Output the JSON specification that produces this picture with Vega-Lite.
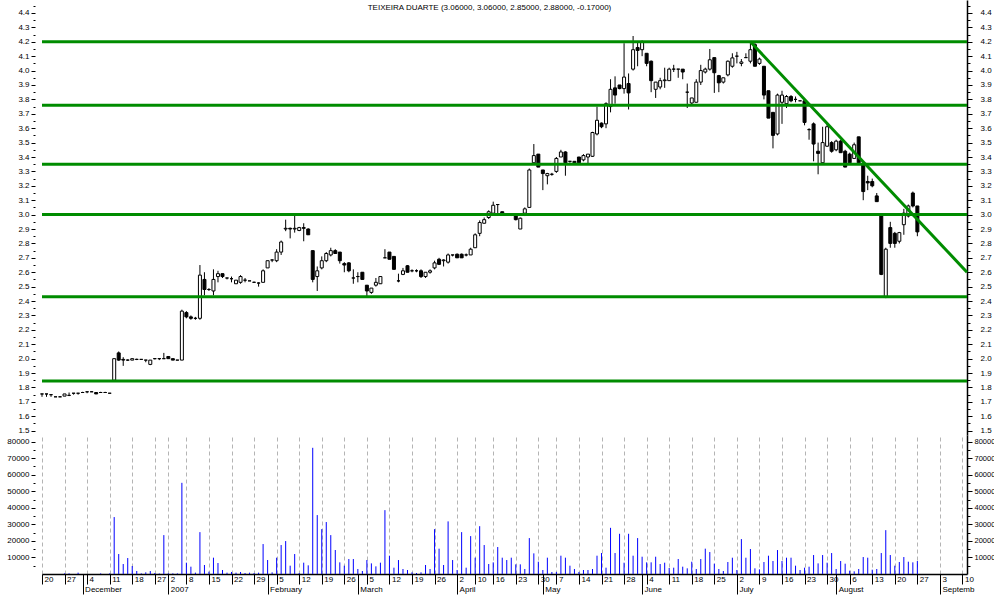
{
"$schema": "https://vega.github.io/schema/vega-lite/v6.json",
"padding": 0,
"autosize": {"type": "pad"},
"background": "white",
"spacing": 0,
"config": {"view": {"stroke": null}, "concat": {"spacing": 0}},
"datasets": {"p": [
{"d":"2006-11-20","o":1.755,"h":1.755,"l":1.735,"c":1.755,"v":0},
{"d":"2006-11-21","o":1.755,"h":1.755,"l":1.735,"c":1.755,"v":0},
{"d":"2006-11-22","o":1.75,"h":1.75,"l":1.735,"c":1.75,"v":0},
{"d":"2006-11-23","o":1.735,"h":1.735,"l":1.735,"c":1.735,"v":0},
{"d":"2006-11-24","o":1.735,"h":1.74,"l":1.735,"c":1.735,"v":0},
{"d":"2006-11-27","o":1.74,"h":1.755,"l":1.74,"c":1.755,"v":400},
{"d":"2006-11-28","o":1.745,"h":1.765,"l":1.74,"c":1.745,"v":400},
{"d":"2006-11-29","o":1.76,"h":1.76,"l":1.75,"c":1.76,"v":0},
{"d":"2006-11-30","o":1.76,"h":1.76,"l":1.75,"c":1.76,"v":800},
{"d":"2006-12-01","o":1.765,"h":1.77,"l":1.765,"c":1.765,"v":0},
{"d":"2006-12-04","o":1.77,"h":1.77,"l":1.76,"c":1.77,"v":0},
{"d":"2006-12-05","o":1.77,"h":1.775,"l":1.77,"c":1.77,"v":0},
{"d":"2006-12-06","o":1.765,"h":1.765,"l":1.755,"c":1.755,"v":0},
{"d":"2006-12-07","o":1.765,"h":1.77,"l":1.765,"c":1.765,"v":400},
{"d":"2006-12-08","o":1.765,"h":1.77,"l":1.765,"c":1.765,"v":0},
{"d":"2006-12-11","o":1.76,"h":1.76,"l":1.76,"c":1.76,"v":400},
{"d":"2006-12-12","o":1.85,"h":2.0,"l":1.85,"c":2.0,"v":34400},
{"d":"2006-12-13","o":2.04,"h":2.05,"l":1.985,"c":1.99,"v":12060},
{"d":"2006-12-14","o":1.995,"h":2.01,"l":1.95,"c":1.99,"v":6030},
{"d":"2006-12-15","o":1.99,"h":1.995,"l":1.985,"c":1.99,"v":9650},
{"d":"2006-12-18","o":1.99,"h":2.0,"l":1.99,"c":2.0,"v":4820},
{"d":"2006-12-19","o":1.995,"h":2.0,"l":1.99,"c":1.995,"v":1810},
{"d":"2006-12-20","o":1.995,"h":1.995,"l":1.995,"c":1.995,"v":400},
{"d":"2006-12-21","o":1.99,"h":1.99,"l":1.975,"c":1.99,"v":1000},
{"d":"2006-12-22","o":1.96,"h":1.99,"l":1.955,"c":1.99,"v":1800},
{"d":"2006-12-27","o":2.0,"h":2.0,"l":1.995,"c":2.0,"v":600},
{"d":"2006-12-28","o":2.0,"h":2.0,"l":1.99,"c":2.0,"v":300},
{"d":"2006-12-29","o":2.0,"h":2.04,"l":2.0,"c":2.0,"v":23500},
{"d":"2007-01-02","o":2.015,"h":2.015,"l":2.0,"c":2.0,"v":400},
{"d":"2007-01-03","o":2.0,"h":2.0,"l":1.99,"c":1.99,"v":400},
{"d":"2007-01-04","o":1.99,"h":1.99,"l":1.99,"c":1.99,"v":400},
{"d":"2007-01-05","o":1.99,"h":2.34,"l":1.99,"c":2.33,"v":55100},
{"d":"2007-01-08","o":2.32,"h":2.33,"l":2.28,"c":2.29,"v":6840},
{"d":"2007-01-09","o":2.29,"h":2.3,"l":2.27,"c":2.28,"v":4420},
{"d":"2007-01-10","o":2.28,"h":2.29,"l":2.27,"c":2.28,"v":800},
{"d":"2007-01-11","o":2.28,"h":2.65,"l":2.27,"c":2.58,"v":25300},
{"d":"2007-01-12","o":2.55,"h":2.6,"l":2.44,"c":2.48,"v":5430},
{"d":"2007-01-15","o":2.48,"h":2.49,"l":2.47,"c":2.48,"v":1410},
{"d":"2007-01-16","o":2.47,"h":2.62,"l":2.44,"c":2.55,"v":9860},
{"d":"2007-01-17","o":2.57,"h":2.61,"l":2.53,"c":2.59,"v":6640},
{"d":"2007-01-18","o":2.59,"h":2.59,"l":2.56,"c":2.57,"v":2410},
{"d":"2007-01-19","o":2.56,"h":2.56,"l":2.55,"c":2.56,"v":800},
{"d":"2007-01-22","o":2.555,"h":2.57,"l":2.53,"c":2.555,"v":1210},
{"d":"2007-01-23","o":2.52,"h":2.545,"l":2.52,"c":2.545,"v":800},
{"d":"2007-01-24","o":2.53,"h":2.58,"l":2.52,"c":2.57,"v":1210},
{"d":"2007-01-25","o":2.545,"h":2.56,"l":2.53,"c":2.545,"v":600},
{"d":"2007-01-26","o":2.54,"h":2.54,"l":2.54,"c":2.54,"v":800},
{"d":"2007-01-29","o":2.53,"h":2.535,"l":2.53,"c":2.53,"v":600},
{"d":"2007-01-30","o":2.525,"h":2.53,"l":2.5,"c":2.525,"v":800},
{"d":"2007-01-31","o":2.53,"h":2.62,"l":2.53,"c":2.61,"v":18100},
{"d":"2007-02-01","o":2.63,"h":2.68,"l":2.63,"c":2.68,"v":8450},
{"d":"2007-02-02","o":2.685,"h":2.69,"l":2.67,"c":2.685,"v":1000},
{"d":"2007-02-05","o":2.68,"h":2.76,"l":2.67,"c":2.74,"v":9860},
{"d":"2007-02-06","o":2.74,"h":2.82,"l":2.72,"c":2.81,"v":17500},
{"d":"2007-02-07","o":2.9,"h":2.965,"l":2.885,"c":2.905,"v":19900},
{"d":"2007-02-08","o":2.905,"h":2.91,"l":2.835,"c":2.9,"v":5030},
{"d":"2007-02-09","o":2.9,"h":3.0,"l":2.875,"c":2.905,"v":12060},
{"d":"2007-02-12","o":2.89,"h":2.915,"l":2.885,"c":2.91,"v":600},
{"d":"2007-02-13","o":2.91,"h":2.94,"l":2.815,"c":2.905,"v":6840},
{"d":"2007-02-14","o":2.9,"h":2.905,"l":2.86,"c":2.86,"v":5230},
{"d":"2007-02-15","o":2.75,"h":2.75,"l":2.53,"c":2.55,"v":76260},
{"d":"2007-02-16","o":2.57,"h":2.64,"l":2.47,"c":2.61,"v":35600},
{"d":"2007-02-19","o":2.63,"h":2.71,"l":2.62,"c":2.68,"v":27100},
{"d":"2007-02-20","o":2.68,"h":2.74,"l":2.67,"c":2.73,"v":31400},
{"d":"2007-02-21","o":2.72,"h":2.77,"l":2.71,"c":2.75,"v":23500},
{"d":"2007-02-22","o":2.75,"h":2.76,"l":2.73,"c":2.73,"v":14500},
{"d":"2007-02-23","o":2.74,"h":2.74,"l":2.66,"c":2.68,"v":7040},
{"d":"2007-02-26","o":2.66,"h":2.67,"l":2.6,"c":2.65,"v":5030},
{"d":"2007-02-27","o":2.665,"h":2.67,"l":2.6,"c":2.61,"v":9050},
{"d":"2007-02-28","o":2.56,"h":2.62,"l":2.52,"c":2.56,"v":9050},
{"d":"2007-03-01","o":2.57,"h":2.6,"l":2.53,"c":2.57,"v":3020},
{"d":"2007-03-02","o":2.6,"h":2.6,"l":2.55,"c":2.55,"v":1810},
{"d":"2007-03-05","o":2.51,"h":2.51,"l":2.43,"c":2.47,"v":8440},
{"d":"2007-03-06","o":2.46,"h":2.49,"l":2.45,"c":2.49,"v":6430},
{"d":"2007-03-07","o":2.51,"h":2.56,"l":2.5,"c":2.53,"v":4620},
{"d":"2007-03-08","o":2.52,"h":2.57,"l":2.52,"c":2.57,"v":6840},
{"d":"2007-03-09","o":2.7,"h":2.76,"l":2.7,"c":2.7,"v":38600},
{"d":"2007-03-12","o":2.74,"h":2.74,"l":2.69,"c":2.69,"v":11060},
{"d":"2007-03-13","o":2.71,"h":2.71,"l":2.62,"c":2.62,"v":3820},
{"d":"2007-03-14","o":2.54,"h":2.59,"l":2.53,"c":2.54,"v":8440},
{"d":"2007-03-15","o":2.585,"h":2.63,"l":2.58,"c":2.61,"v":3020},
{"d":"2007-03-16","o":2.645,"h":2.65,"l":2.6,"c":2.6,"v":2410},
{"d":"2007-03-19","o":2.61,"h":2.62,"l":2.6,"c":2.61,"v":1010},
{"d":"2007-03-20","o":2.61,"h":2.62,"l":2.6,"c":2.61,"v":600},
{"d":"2007-03-21","o":2.61,"h":2.62,"l":2.56,"c":2.57,"v":1010},
{"d":"2007-03-22","o":2.57,"h":2.6,"l":2.56,"c":2.6,"v":5430},
{"d":"2007-03-23","o":2.6,"h":2.62,"l":2.59,"c":2.61,"v":3020},
{"d":"2007-03-26","o":2.63,"h":2.68,"l":2.62,"c":2.665,"v":27100},
{"d":"2007-03-27","o":2.69,"h":2.7,"l":2.65,"c":2.655,"v":15300},
{"d":"2007-03-28","o":2.68,"h":2.69,"l":2.64,"c":2.685,"v":5430},
{"d":"2007-03-29","o":2.67,"h":2.73,"l":2.66,"c":2.72,"v":31800},
{"d":"2007-03-30","o":2.72,"h":2.72,"l":2.71,"c":2.72,"v":8440},
{"d":"2007-04-02","o":2.725,"h":2.73,"l":2.7,"c":2.7,"v":2410},
{"d":"2007-04-03","o":2.725,"h":2.73,"l":2.7,"c":2.7,"v":25300},
{"d":"2007-04-04","o":2.72,"h":2.73,"l":2.71,"c":2.72,"v":3820},
{"d":"2007-04-05","o":2.72,"h":2.77,"l":2.72,"c":2.76,"v":22900},
{"d":"2007-04-10","o":2.77,"h":2.87,"l":2.77,"c":2.86,"v":9860},
{"d":"2007-04-11","o":2.87,"h":2.96,"l":2.85,"c":2.945,"v":28900},
{"d":"2007-04-12","o":2.94,"h":2.98,"l":2.94,"c":2.965,"v":17500},
{"d":"2007-04-13","o":2.98,"h":3.03,"l":2.97,"c":3.02,"v":6030},
{"d":"2007-04-16","o":3.01,"h":3.09,"l":3.0,"c":3.065,"v":7040},
{"d":"2007-04-17","o":3.07,"h":3.07,"l":3.0,"c":3.07,"v":16300},
{"d":"2007-04-18","o":3.02,"h":3.02,"l":3.0,"c":3.005,"v":9860},
{"d":"2007-04-19","o":3.0,"h":3.01,"l":3.0,"c":3.0,"v":8440},
{"d":"2007-04-20","o":3.0,"h":3.01,"l":2.99,"c":3.0,"v":9860},
{"d":"2007-04-23","o":2.99,"h":3.0,"l":2.96,"c":2.965,"v":5830},
{"d":"2007-04-24","o":2.9,"h":2.98,"l":2.9,"c":2.975,"v":5830},
{"d":"2007-04-25","o":3.01,"h":3.05,"l":2.99,"c":3.04,"v":3020},
{"d":"2007-04-26","o":3.05,"h":3.32,"l":3.05,"c":3.31,"v":21700},
{"d":"2007-04-27","o":3.36,"h":3.49,"l":3.35,"c":3.41,"v":12470},
{"d":"2007-04-30","o":3.42,"h":3.42,"l":3.33,"c":3.33,"v":7440},
{"d":"2007-05-02","o":3.31,"h":3.31,"l":3.17,"c":3.285,"v":2410},
{"d":"2007-05-03","o":3.27,"h":3.29,"l":3.21,"c":3.285,"v":9860},
{"d":"2007-05-04","o":3.28,"h":3.29,"l":3.27,"c":3.28,"v":1210},
{"d":"2007-05-07","o":3.3,"h":3.4,"l":3.29,"c":3.39,"v":1210},
{"d":"2007-05-08","o":3.4,"h":3.45,"l":3.4,"c":3.435,"v":11060},
{"d":"2007-05-09","o":3.435,"h":3.44,"l":3.27,"c":3.36,"v":9860},
{"d":"2007-05-10","o":3.37,"h":3.37,"l":3.36,"c":3.37,"v":5030},
{"d":"2007-05-11","o":3.37,"h":3.37,"l":3.36,"c":3.36,"v":3020},
{"d":"2007-05-14","o":3.4,"h":3.4,"l":3.36,"c":3.36,"v":1210},
{"d":"2007-05-15","o":3.38,"h":3.42,"l":3.37,"c":3.41,"v":2410},
{"d":"2007-05-16","o":3.4,"h":3.42,"l":3.35,"c":3.42,"v":2410},
{"d":"2007-05-17","o":3.405,"h":3.575,"l":3.4,"c":3.57,"v":3020},
{"d":"2007-05-18","o":3.56,"h":3.75,"l":3.55,"c":3.655,"v":11060},
{"d":"2007-05-21","o":3.635,"h":3.64,"l":3.6,"c":3.61,"v":12670},
{"d":"2007-05-22","o":3.63,"h":3.78,"l":3.6,"c":3.77,"v":3820},
{"d":"2007-05-23","o":3.75,"h":3.94,"l":3.71,"c":3.87,"v":27900},
{"d":"2007-05-24","o":3.88,"h":3.96,"l":3.77,"c":3.83,"v":12670},
{"d":"2007-05-25","o":3.9,"h":3.9,"l":3.87,"c":3.875,"v":24300},
{"d":"2007-05-28","o":3.875,"h":4.19,"l":3.84,"c":3.955,"v":6840},
{"d":"2007-05-29","o":3.91,"h":3.98,"l":3.73,"c":3.845,"v":24300},
{"d":"2007-05-30","o":4.01,"h":4.24,"l":4.0,"c":4.145,"v":11060},
{"d":"2007-05-31","o":4.16,"h":4.2,"l":4.03,"c":4.14,"v":21700},
{"d":"2007-06-01","o":4.145,"h":4.21,"l":4.1,"c":4.2,"v":10450},
{"d":"2007-06-04","o":4.12,"h":4.12,"l":4.03,"c":4.05,"v":7040},
{"d":"2007-06-05","o":4.065,"h":4.07,"l":3.85,"c":3.93,"v":7040},
{"d":"2007-06-06","o":3.87,"h":3.92,"l":3.81,"c":3.92,"v":10450},
{"d":"2007-06-07","o":3.886,"h":3.95,"l":3.87,"c":3.93,"v":6030},
{"d":"2007-06-08","o":3.93,"h":4.02,"l":3.88,"c":3.935,"v":6840},
{"d":"2007-06-11","o":3.93,"h":4.02,"l":3.93,"c":4.01,"v":3620},
{"d":"2007-06-12","o":4.01,"h":4.04,"l":3.99,"c":4.01,"v":3820},
{"d":"2007-06-13","o":4.01,"h":4.01,"l":3.95,"c":4.01,"v":9050},
{"d":"2007-06-14","o":4.01,"h":4.01,"l":3.94,"c":3.99,"v":4420},
{"d":"2007-06-15","o":3.85,"h":3.91,"l":3.74,"c":3.85,"v":3420},
{"d":"2007-06-18","o":3.775,"h":3.81,"l":3.765,"c":3.81,"v":7440},
{"d":"2007-06-19","o":3.78,"h":3.94,"l":3.78,"c":3.92,"v":3020},
{"d":"2007-06-20","o":3.92,"h":4.04,"l":3.9,"c":4.0,"v":9050},
{"d":"2007-06-21","o":3.99,"h":4.02,"l":3.98,"c":4.01,"v":15300},
{"d":"2007-06-22","o":4.01,"h":4.15,"l":4.0,"c":4.075,"v":13270},
{"d":"2007-06-25","o":4.09,"h":4.09,"l":3.845,"c":3.985,"v":6230},
{"d":"2007-06-26","o":3.965,"h":3.97,"l":3.85,"c":3.915,"v":3020},
{"d":"2007-06-27","o":3.92,"h":3.95,"l":3.91,"c":3.95,"v":1810},
{"d":"2007-06-28","o":3.97,"h":4.07,"l":3.96,"c":4.065,"v":7240},
{"d":"2007-06-29","o":4.03,"h":4.12,"l":4.02,"c":4.088,"v":9850},
{"d":"2007-07-02","o":4.1,"h":4.13,"l":4.05,"c":4.1,"v":2410},
{"d":"2007-07-03","o":4.05,"h":4.08,"l":4.03,"c":4.06,"v":21100},
{"d":"2007-07-04","o":4.09,"h":4.12,"l":4.09,"c":4.09,"v":9850},
{"d":"2007-07-05","o":4.065,"h":4.19,"l":4.05,"c":4.145,"v":15080},
{"d":"2007-07-06","o":4.18,"h":4.2,"l":4.03,"c":4.03,"v":3420},
{"d":"2007-07-09","o":4.05,"h":4.09,"l":4.04,"c":4.08,"v":2810},
{"d":"2007-07-10","o":4.03,"h":4.03,"l":3.8,"c":3.83,"v":7240},
{"d":"2007-07-11","o":3.86,"h":3.86,"l":3.67,"c":3.67,"v":11060},
{"d":"2007-07-12","o":3.71,"h":3.71,"l":3.46,"c":3.55,"v":7840},
{"d":"2007-07-13","o":3.56,"h":3.84,"l":3.55,"c":3.83,"v":14470},
{"d":"2007-07-16","o":3.78,"h":3.86,"l":3.63,"c":3.83,"v":7840},
{"d":"2007-07-17","o":3.77,"h":3.83,"l":3.74,"c":3.82,"v":9850},
{"d":"2007-07-18","o":3.82,"h":3.83,"l":3.78,"c":3.79,"v":9850},
{"d":"2007-07-19","o":3.8,"h":3.82,"l":3.78,"c":3.8,"v":5030},
{"d":"2007-07-20","o":3.79,"h":3.79,"l":3.79,"c":3.79,"v":2410},
{"d":"2007-07-23","o":3.79,"h":3.81,"l":3.62,"c":3.64,"v":3820},
{"d":"2007-07-24","o":3.59,"h":3.6,"l":3.52,"c":3.59,"v":4420},
{"d":"2007-07-25","o":3.63,"h":3.64,"l":3.37,"c":3.49,"v":11460},
{"d":"2007-07-26","o":3.44,"h":3.5,"l":3.28,"c":3.425,"v":6430},
{"d":"2007-07-27","o":3.36,"h":3.61,"l":3.35,"c":3.5,"v":11460},
{"d":"2007-07-30","o":3.475,"h":3.63,"l":3.47,"c":3.61,"v":6840},
{"d":"2007-07-31","o":3.5,"h":3.51,"l":3.43,"c":3.44,"v":12670},
{"d":"2007-08-01","o":3.45,"h":3.52,"l":3.44,"c":3.51,"v":3020},
{"d":"2007-08-02","o":3.51,"h":3.52,"l":3.43,"c":3.43,"v":7840},
{"d":"2007-08-03","o":3.44,"h":3.45,"l":3.33,"c":3.33,"v":6230},
{"d":"2007-08-06","o":3.42,"h":3.43,"l":3.36,"c":3.36,"v":2010},
{"d":"2007-08-07","o":3.39,"h":3.5,"l":3.39,"c":3.485,"v":1610},
{"d":"2007-08-08","o":3.54,"h":3.54,"l":3.36,"c":3.36,"v":3020},
{"d":"2007-08-09","o":3.35,"h":3.35,"l":3.1,"c":3.16,"v":10250},
{"d":"2007-08-10","o":3.23,"h":3.27,"l":3.17,"c":3.22,"v":9850},
{"d":"2007-08-13","o":3.23,"h":3.25,"l":3.19,"c":3.2,"v":2610},
{"d":"2007-08-14","o":3.13,"h":3.15,"l":3.09,"c":3.09,"v":3020},
{"d":"2007-08-15","o":2.99,"h":3.0,"l":2.58,"c":2.585,"v":12670},
{"d":"2007-08-16","o":2.43,"h":2.77,"l":2.42,"c":2.76,"v":26500},
{"d":"2007-08-17","o":2.91,"h":2.95,"l":2.77,"c":2.8,"v":11460},
{"d":"2007-08-20","o":2.87,"h":2.88,"l":2.77,"c":2.8,"v":5030},
{"d":"2007-08-21","o":2.815,"h":2.88,"l":2.8,"c":2.875,"v":7240},
{"d":"2007-08-22","o":2.93,"h":3.04,"l":2.86,"c":3.01,"v":10250},
{"d":"2007-08-23","o":2.99,"h":3.07,"l":2.98,"c":3.06,"v":7440},
{"d":"2007-08-24","o":3.15,"h":3.16,"l":3.05,"c":3.06,"v":7040},
{"d":"2007-08-27","o":3.06,"h":3.06,"l":2.85,"c":2.88,"v":7840},
{"d":"2007-08-28"},{"d":"2007-08-29"},{"d":"2007-08-30"},{"d":"2007-08-31"},
{"d":"2007-09-03"},{"d":"2007-09-04"},{"d":"2007-09-05"},{"d":"2007-09-06"},
{"d":"2007-09-07"},{"d":"2007-09-10"},{"d":"2007-09-11"}
]},
"data": {"name": "p"},
"vconcat": [
{
 "width": 925, "height": 435,
 "title": {"text": "TEIXEIRA DUARTE (3.06000, 3.06000, 2.85000, 2.88000, -0.17000)", "offset": -12, "fontSize": 8, "font": "Liberation Sans", "fontWeight": "normal", "color": "#000000", "anchor": "middle", "frame": "group", "dx": -15},
 "layer": [
  {"mark": {"type": "rule", "opacity": 0},
   "encoding": {"x": {"field": "d", "type": "ordinal", "scale": {"type": "point", "padding": 0},
     "axis": {"title": null, "values": ["2006-11-20","2006-11-27","2006-12-04","2006-12-11","2006-12-18","2006-12-27","2007-01-02","2007-01-08","2007-01-15","2007-01-22","2007-01-29","2007-02-05","2007-02-12","2007-02-19","2007-02-26","2007-03-05","2007-03-12","2007-03-19","2007-03-26","2007-04-02","2007-04-10","2007-04-16","2007-04-23","2007-04-30","2007-05-07","2007-05-14","2007-05-21","2007-05-28","2007-06-04","2007-06-11","2007-06-18","2007-06-25","2007-07-02","2007-07-09","2007-07-16","2007-07-23","2007-07-30","2007-08-06","2007-08-13","2007-08-20","2007-08-27","2007-09-03","2007-09-10"],
       "grid": true, "gridDash": [4, 3], "gridColor": "#b4b4b4", "gridWidth": 1, "labels": false, "ticks": false, "domain": true, "domainColor": "#000000", "domainWidth": 2, "maxExtent": 0, "minExtent": 0}}}},
  {"mark": {"type": "rule", "color": "#000000", "strokeWidth": 1},
   "encoding": {
    "x": {"field": "d", "type": "ordinal", "scale": {"type": "point", "padding": 0}, "axis": null},
    "y": {"field": "l", "type": "quantitative", "scale": {"domain": [1.47, 4.49], "nice": false, "zero": false},
      "axis": {"orient": "left", "title": null, "values": [1.5,1.55,1.6,1.65,1.7,1.75,1.8,1.85,1.9,1.95,2,2.05,2.1,2.15,2.2,2.25,2.3,2.35,2.4,2.45,2.5,2.55,2.6,2.65,2.7,2.75,2.8,2.85,2.9,2.95,3,3.05,3.1,3.15,3.2,3.25,3.3,3.35,3.4,3.45,3.5,3.55,3.6,3.65,3.7,3.75,3.8,3.85,3.9,3.95,4,4.05,4.1,4.15,4.2,4.25,4.3,4.35,4.4,4.45],
        "labelExpr": "round(datum.value*20)%2==1 ? '' : format(datum.value, '.1f')",
        "tickSize": {"condition": {"test": "round(datum.value*20)%2==1", "value": 2}, "value": 4},
        "domain": false, "grid": false, "offset": 7, "labelPadding": 2, "labelFont": "Liberation Sans", "labelFontSize": 8, "labelColor": "#000000", "tickColor": "#000000", "labelOverlap": false, "labelFlush": false, "labelBound": false, "minExtent": 35, "maxExtent": 35}},
    "y2": {"field": "h"}}},
  {"mark": {"type": "bar", "size": 3, "stroke": "#000000", "strokeWidth": 1},
   "encoding": {
    "x": {"field": "d", "type": "ordinal", "scale": {"type": "point", "padding": 0}, "axis": null},
    "y": {"field": "o", "type": "quantitative",
      "axis": {"orient": "right", "title": null, "values": [1.5,1.55,1.6,1.65,1.7,1.75,1.8,1.85,1.9,1.95,2,2.05,2.1,2.15,2.2,2.25,2.3,2.35,2.4,2.45,2.5,2.55,2.6,2.65,2.7,2.75,2.8,2.85,2.9,2.95,3,3.05,3.1,3.15,3.2,3.25,3.3,3.35,3.4,3.45,3.5,3.55,3.6,3.65,3.7,3.75,3.8,3.85,3.9,3.95,4,4.05,4.1,4.15,4.2,4.25,4.3,4.35,4.4,4.45],
        "labelExpr": "round(datum.value*20)%2==1 ? '' : format(datum.value, '.1f')",
        "tickSize": {"condition": {"test": "round(datum.value*20)%2==1", "value": 3}, "value": 5},
        "domain": true, "domainColor": "#000000", "domainWidth": 1.5, "grid": false, "labelPadding": 8, "labelFont": "Liberation Sans", "labelFontSize": 8, "labelColor": "#000000", "tickColor": "#000000", "labelOverlap": false, "labelFlush": false, "labelBound": false, "minExtent": 34, "maxExtent": 34}},
    "y2": {"field": "c"},
    "fill": {"condition": {"test": "datum.c >= datum.o", "value": "#ffffff"}, "value": "#000000"}}},
  {"data": {"values": [{"g": 4.2}, {"g": 3.76}, {"g": 3.35}, {"g": 3.0}, {"g": 2.43}, {"g": 1.845}]},
   "mark": {"type": "rule", "color": "#008c00", "strokeWidth": 3},
   "encoding": {"y": {"field": "g", "type": "quantitative", "axis": null}}},
  {"data": {"values": [{"d": "2007-07-05", "t": 4.2}, {"d": "2007-09-11", "t": 2.6}]},
   "mark": {"type": "line", "color": "#008c00", "strokeWidth": 3},
   "encoding": {
    "x": {"field": "d", "type": "ordinal", "scale": {"type": "point", "padding": 0}, "axis": null},
    "y": {"field": "t", "type": "quantitative", "axis": null}}}
 ],
 "resolve": {"axis": {"y": "independent"}}
},
{
 "width": 925, "height": 139,
 "layer": [
  {"mark": {"type": "rule", "opacity": 0},
   "encoding": {"x": {"field": "d", "type": "ordinal", "scale": {"type": "point", "padding": 0},
     "axis": {"title": null, "orient": "bottom", "labelAngle": 0, "values": ["2006-11-20","2006-11-27","2006-12-04","2006-12-11","2006-12-18","2006-12-27","2007-01-02","2007-01-08","2007-01-15","2007-01-22","2007-01-29","2007-02-05","2007-02-12","2007-02-19","2007-02-26","2007-03-05","2007-03-12","2007-03-19","2007-03-26","2007-04-02","2007-04-10","2007-04-16","2007-04-23","2007-04-30","2007-05-07","2007-05-14","2007-05-21","2007-05-28","2007-06-04","2007-06-11","2007-06-18","2007-06-25","2007-07-02","2007-07-09","2007-07-16","2007-07-23","2007-07-30","2007-08-06","2007-08-13","2007-08-20","2007-08-27","2007-09-03","2007-09-10"],
       "labelExpr": "toNumber(substring(datum.value, 8, 10))",
       "grid": true, "gridDash": [4, 3], "gridColor": "#b4b4b4", "gridWidth": 1,
       "ticks": true, "tickSize": 10, "tickColor": "#000000", "tickWidth": 1,
       "domain": true, "domainColor": "#000000", "domainWidth": 1.5,
       "labelAlign": "left", "labelBaseline": "top", "labelPadding": -9, "labelOffset": 2,
       "labelFont": "Liberation Sans", "labelFontSize": 8, "labelColor": "#000000", "labelOverlap": false, "labelFlush": false, "labelBound": false}}}},
  {"mark": {"type": "rule", "color": "#0000ff", "strokeWidth": 1},
   "encoding": {
    "x": {"field": "d", "type": "ordinal", "scale": {"type": "point", "padding": 0}, "axis": null},
    "y": {"field": "v", "type": "quantitative", "scale": {"domain": [0, 84000], "nice": false, "zero": true},
      "axis": {"orient": "left", "title": null, "values": [5000,10000,15000,20000,25000,30000,35000,40000,45000,50000,55000,60000,65000,70000,75000,80000],
        "labelExpr": "datum.value % 10000 == 0 ? '' + datum.value : ''",
        "tickSize": {"condition": {"test": "datum.value % 10000 != 0", "value": 2}, "value": 4},
        "domain": false, "grid": false, "offset": 7, "labelPadding": 2, "labelFont": "Liberation Sans", "labelFontSize": 8, "labelColor": "#000000", "tickColor": "#000000", "labelOverlap": false, "labelFlush": false, "labelBound": false, "minExtent": 35, "maxExtent": 35}},
    "y2": {"datum": 0}}},
  {"mark": {"type": "rule", "opacity": 0},
   "encoding": {
    "x": {"field": "d", "type": "ordinal", "scale": {"type": "point", "padding": 0},
      "axis": {"title": null, "orient": "bottom", "labelAngle": 0, "values": ["2006-12-01","2007-01-02","2007-02-01","2007-03-01","2007-04-02","2007-05-02","2007-06-01","2007-07-02","2007-08-01","2007-09-03"],
        "labelExpr": "['2007','February','March','April','May','June','July','August','Septemb','October','November','December'][toNumber(substring(datum.value, 5, 7)) - 1]",
        "grid": false, "ticks": true, "tickSize": 20, "tickColor": "#000000", "tickWidth": 1, "domain": false,
        "labelAlign": "left", "labelBaseline": "top", "labelPadding": -9, "labelOffset": 2,
        "labelFont": "Liberation Sans", "labelFontSize": 8, "labelColor": "#000000", "labelOverlap": false, "labelFlush": false, "labelBound": false}},
    "y": {"field": "v", "type": "quantitative",
      "axis": {"orient": "right", "title": null, "values": [5000,10000,15000,20000,25000,30000,35000,40000,45000,50000,55000,60000,65000,70000,75000,80000],
        "labelExpr": "datum.value % 10000 == 0 ? '' + datum.value : ''",
        "tickSize": {"condition": {"test": "datum.value % 10000 != 0", "value": 3}, "value": 5},
        "domain": true, "domainColor": "#000000", "domainWidth": 1.5, "grid": false, "labelPadding": 2, "labelFont": "Liberation Sans", "labelFontSize": 7.5, "labelColor": "#000000", "tickColor": "#000000", "labelOverlap": false, "labelFlush": false, "labelBound": false, "minExtent": 34, "maxExtent": 34}},
    "y2": {"datum": 0}}}
 ],
 "resolve": {"axis": {"x": "independent", "y": "independent"}}
}
]
}
